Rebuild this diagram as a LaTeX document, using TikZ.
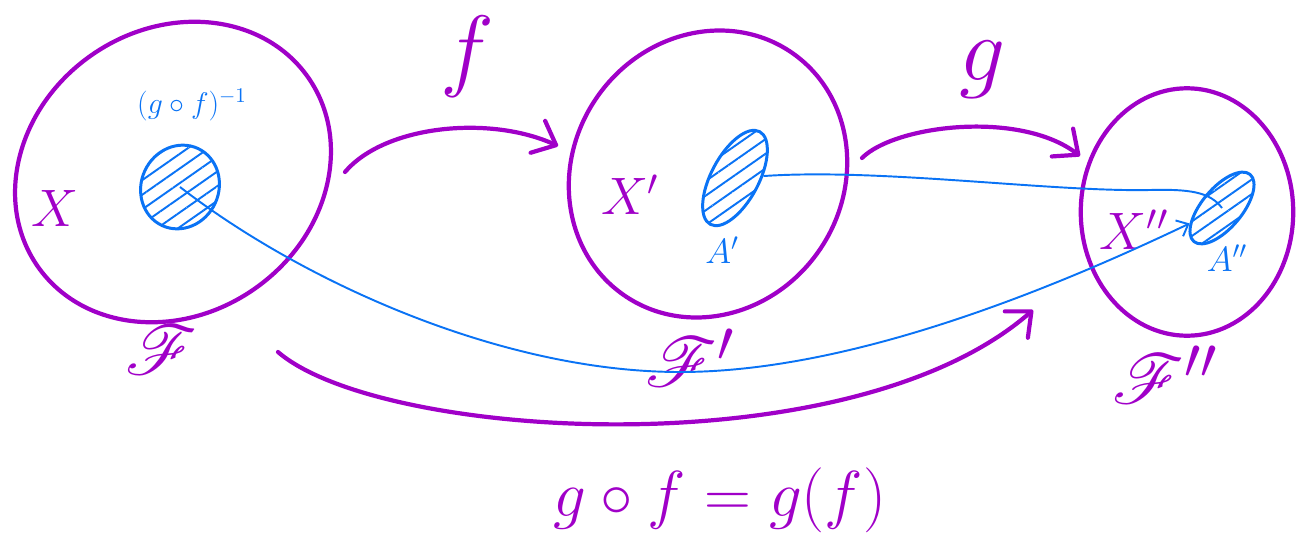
\RequirePackage{fix-cm}
\documentclass[tikz,border=0pt]{standalone}
\usepackage{amsmath,mathrsfs}
\definecolor{inkpurple}{RGB}{160,0,200}
\definecolor{inkblue}{RGB}{10,115,245}
\usetikzlibrary{arrows.meta,shapes.geometric,patterns.meta}
\newcommand{\famlab}[1]{\scalebox{1.6}{$\mathscr{F}#1$}}

\begin{document}
\begin{tikzpicture}[x=0.02cm,y=-0.02cm,
  setshape/.style={ellipse,draw=inkpurple,line width=2.4pt,inner sep=0pt},
  blobshape/.style={ellipse,draw=inkblue,line width=1.7pt,inner sep=0pt,
    pattern={Lines[angle=35,distance=2.4mm,line width=1.1pt]},pattern color=inkblue},
  maparrow/.style={draw=inkpurple,line width=2.4pt,line cap=round,
    -{Straight Barb[length=4mm,width=7mm,round]}},
  trace/.style={draw=inkblue,line width=1.1pt},
  setlabel/.style={inkpurple,font=\fontsize{30}{34}\selectfont},
  familylabel/.style={inkpurple,font=\fontsize{24.88}{28}\selectfont},
  maplabel/.style={inkpurple,font=\fontsize{52}{56}\selectfont},
  bloblabel/.style={inkblue,font=\fontsize{20}{24}\selectfont}]
  \useasboundingbox (0,0) rectangle (1296,558);
  \node[setshape,minimum width=6.6cm,minimum height=5.7cm,rotate=35] (setX) at (173,172) {};
  \node[setshape,minimum width=5.9cm,minimum height=5.4cm,rotate=55] (setXp) at (708,174) {};
  \node[setshape,minimum width=4.25cm,minimum height=4.95cm] (setXpp) at (1187,212) {};
  \node[blobshape,minimum width=1.55cm,minimum height=1.7cm,rotate=-25] (blobA) at (180,187) {};
  \node[blobshape,minimum width=2.1cm,minimum height=0.95cm,rotate=62] (blobAp) at (735,178) {};
  \node[blobshape,minimum width=1.75cm,minimum height=0.8cm,rotate=50] (blobApp) at (1222,208) {};
  \node[setlabel] (labX) at (55,208) {$X$};
  \node[setlabel] (labXp) at (630,195) {$X'$};
  \node[setlabel] (labXpp) at (1134,230) {$X''$};
  \node[familylabel] (labF) at (162,350) {\famlab{}};
  \node[familylabel] (labFp) at (690,358) {\famlab{'}};
  \node[familylabel] (labFpp) at (1165,375) {\famlab{''}};
  \node[bloblabel,font=\fontsize{17}{20}\selectfont] (labA) at (192,105) {$(g\circ f)^{-1}$};
  \node[bloblabel] (labAp) at (722,250) {$A'$};
  \node[bloblabel] (labApp) at (1227,258) {$A''$};
  \node[maplabel] (labf) at (467,57) {$f$};
  \node[maplabel] (labg) at (983,70) {$g$};
  \node[inkpurple,font=\fontsize{37}{40}\selectfont] (labgf) at (720,500) {$g\circ f = g(f)$};
  \coordinate (fstart) at (345,172);
  \coordinate (fend) at (558,146);
  \coordinate (gstart) at (862,158);
  \coordinate (gend) at (1080,156);
  \coordinate (gfstart) at (278,352);
  \coordinate (gfend) at (1033,310);
  \coordinate (tracelow) at (680,372);
  \draw[maparrow] (fstart) .. controls (385,125) and (490,115) .. (fend);
  \draw[maparrow] (gstart) .. controls (895,125) and (1020,110) .. (gend);
  \draw[maparrow] (gfstart) .. controls (380,440) and (850,470) .. (gfend);
  \draw[trace,-{Straight Barb[length=2mm,width=3.5mm]}] (blobA.center) .. controls (300,280) and (500,372) .. (tracelow)
    .. controls (850,372) and (1050,290) .. (blobApp);
  \draw[trace] (blobAp) .. controls (880,168) and (1050,192) .. (1150,190)
    .. controls (1190,189) and (1210,192) .. (blobApp.center);
\end{tikzpicture}
\end{document}
